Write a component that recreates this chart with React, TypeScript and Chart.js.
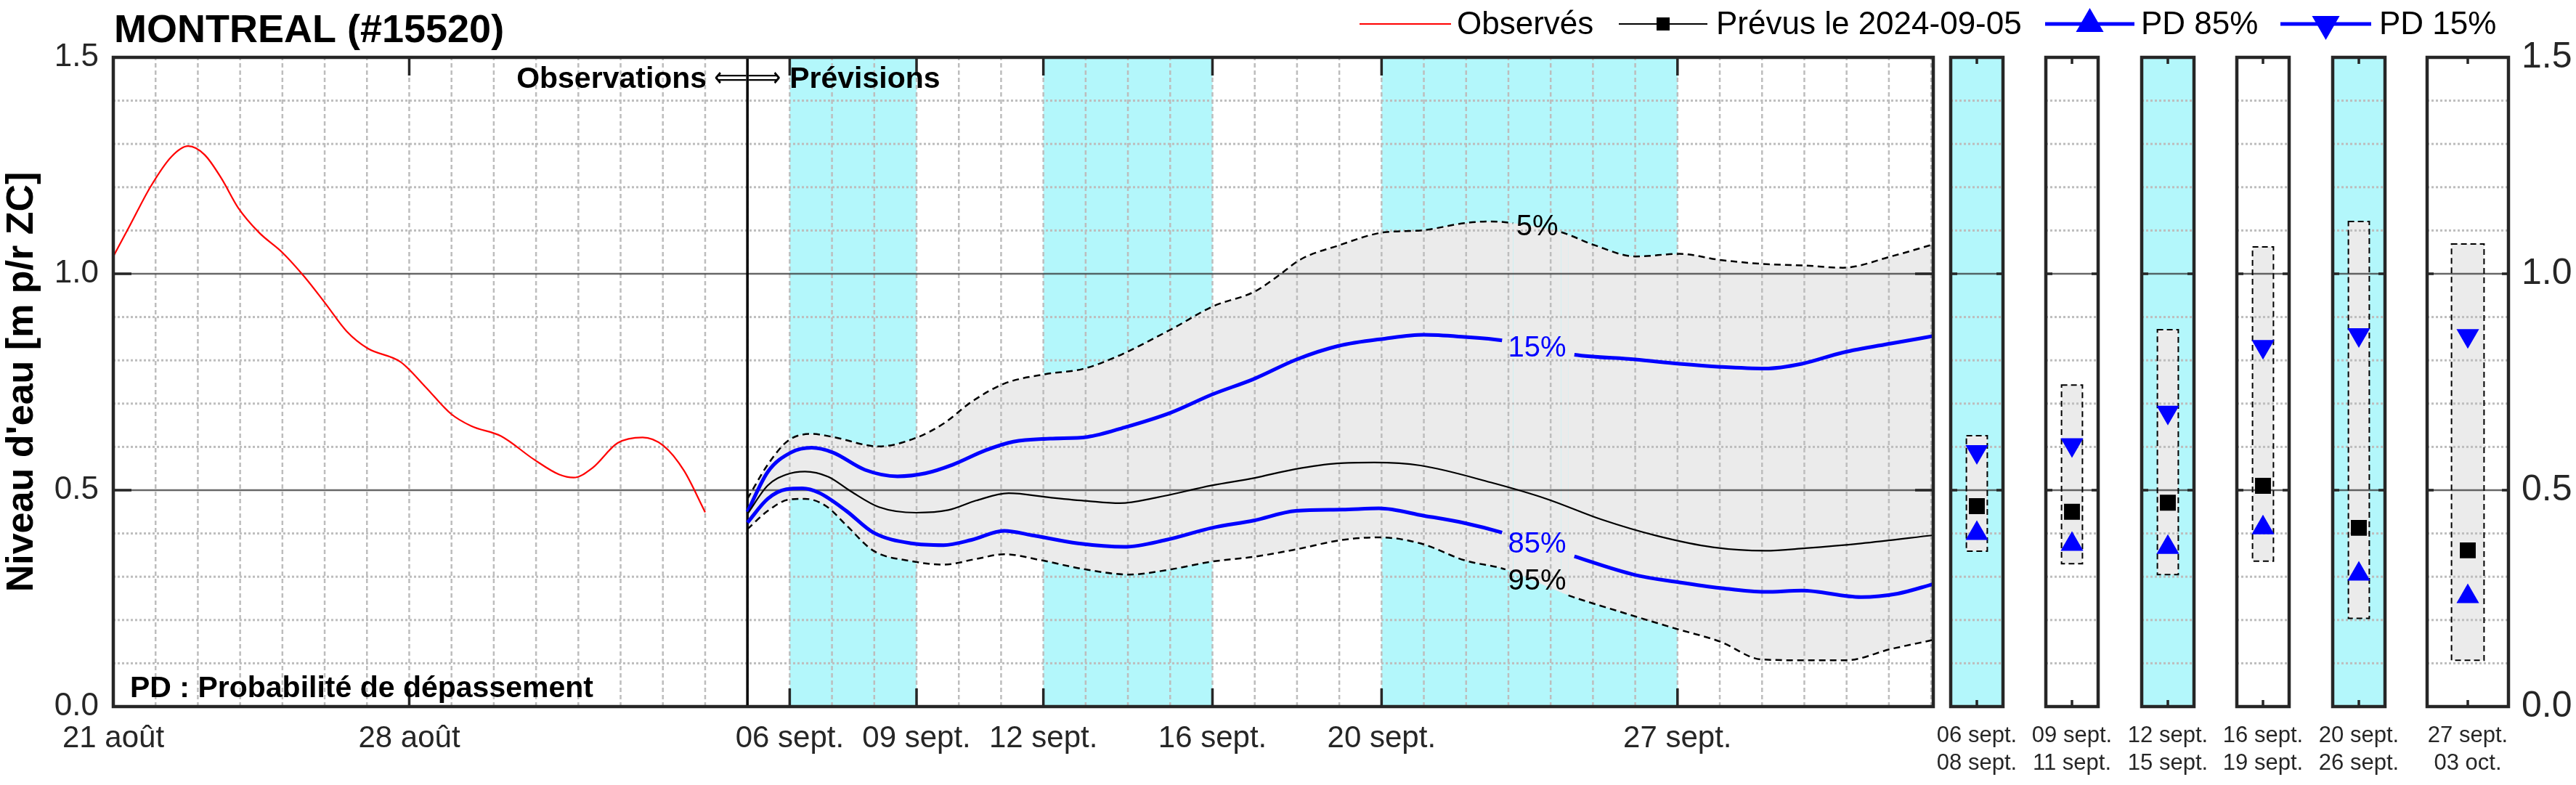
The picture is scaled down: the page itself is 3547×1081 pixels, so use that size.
import React, { useEffect, useRef } from 'react';
import { Chart, registerables } from 'chart.js';

Chart.register(...registerables);

const FONT = '"Liberation Sans", Arial, Helvetica, sans-serif';
Chart.defaults.font.family = FONT;

// ---------------- layout constants ----------------
const CW = 3547;
const CH = 1081;
const TOP = 79;
const BOTTOM = 973;
const MAIN_LEFT = 156;
const MAIN_RIGHT = 2662;
const X_MAX = 43.05; // days since 21 Aug 00:00
const PANEL_W = 112;
const PANEL_MARGIN = 40;
const panelLefts = [2686, 2817, 2949, 3080, 3212, 3342];

// ---------------- colours ----------------
const CYAN = '#b3f7fb';
const FILL_GRAY = '#ebebeb';
const AXIS = '#262626';
const GRID = '#bdbdbd';
const MAJOR = 'rgba(45,45,45,0.72)';
const RED = '#ff0000';
const BLUE = '#0000ff';

// ---------------- data ----------------
const xTickDays = [0, 7, 16, 19, 22, 26, 30, 37];
const xTickLabels = ['21 août', '28 août', '06 sept.', '09 sept.', '12 sept.', '16 sept.', '20 sept.', '27 sept.'];
const yTickValues = [0, 0.5, 1.0, 1.5];
const bandStarts = [16, 22, 30];
const bandEnds = [19, 26, 37];
const forecastStartDay = 15;

const obsDays = [0, 0.39, 0.88, 1.38, 1.77, 2.16, 2.56, 2.95, 3.45, 3.99, 4.53, 5.02, 5.52, 6.01, 6.8, 7.39, 7.98, 8.47, 9.17, 9.95, 10.55, 10.89, 11.33, 11.93, 12.52, 13.01, 13.5, 14.0];
const obsLevels = [1.04, 1.111, 1.201, 1.271, 1.295, 1.275, 1.22, 1.153, 1.095, 1.05, 0.992, 0.931, 0.867, 0.828, 0.796, 0.738, 0.677, 0.648, 0.625, 0.571, 0.536, 0.529, 0.551, 0.609, 0.622, 0.603, 0.545, 0.449];

const medDays = [15.0, 15.48, 15.92, 16.36, 16.91, 17.45, 18.11, 18.99, 19.75, 20.41, 21.18, 22.16, 23.04, 23.81, 24.68, 25.99, 26.98, 27.97, 28.95, 29.83, 30.92, 32.58, 33.9, 35.21, 36.53, 37.84, 39.07, 40.03, 41.34, 43.05];
const medLevels = [0.445, 0.511, 0.536, 0.543, 0.531, 0.497, 0.461, 0.448, 0.454, 0.476, 0.493, 0.483, 0.475, 0.47, 0.483, 0.511, 0.528, 0.549, 0.562, 0.564, 0.557, 0.518, 0.48, 0.432, 0.394, 0.368, 0.36, 0.366, 0.377, 0.396];

const p15Days = [15.0, 15.48, 16.03, 16.52, 17.02, 17.78, 18.55, 19.21, 19.86, 20.63, 21.29, 22.16, 23.04, 23.92, 25.01, 25.99, 26.98, 27.99, 28.97, 30.07, 31.0, 31.96, 32.85, 34.56, 36.0, 37.05, 38.01, 39.07, 39.94, 40.91, 42.05, 43.05];
const p15Levels = [0.45, 0.542, 0.587, 0.598, 0.587, 0.547, 0.532, 0.539, 0.559, 0.592, 0.612, 0.619, 0.623, 0.645, 0.679, 0.721, 0.757, 0.802, 0.833, 0.85, 0.859, 0.854, 0.846, 0.813, 0.802, 0.792, 0.785, 0.781, 0.792, 0.818, 0.839, 0.856];

const p85Days = [15.0, 15.48, 15.92, 16.3, 16.69, 17.34, 17.98, 18.88, 19.64, 20.3, 21.07, 21.72, 22.82, 23.92, 24.9, 25.99, 26.98, 27.97, 29.07, 29.94, 31.0, 31.96, 32.85, 34.56, 36.0, 37.05, 38.01, 39.07, 39.94, 41.34, 42.21, 43.05];
const p85Levels = [0.425, 0.48, 0.502, 0.504, 0.494, 0.452, 0.402, 0.377, 0.373, 0.385, 0.406, 0.396, 0.377, 0.369, 0.385, 0.413, 0.43, 0.452, 0.455, 0.458, 0.441, 0.424, 0.402, 0.347, 0.304, 0.287, 0.274, 0.265, 0.268, 0.253, 0.261, 0.283];

const p5Days = [15.0, 15.48, 15.97, 16.52, 17.02, 18.11, 18.99, 19.64, 20.3, 21.07, 22.05, 22.93, 23.72, 25.03, 26.02, 27.0, 27.55, 28.1, 28.97, 30.07, 30.92, 31.96, 32.58, 33.11, 34.25, 35.04, 36.0, 37.05, 38.01, 38.98, 40.03, 40.91, 42.05, 43.05];
const p5Levels = [0.48, 0.559, 0.615, 0.63, 0.623, 0.601, 0.621, 0.654, 0.704, 0.746, 0.768, 0.78, 0.808, 0.872, 0.925, 0.959, 0.995, 1.034, 1.065, 1.096, 1.1, 1.117, 1.121, 1.117, 1.096, 1.066, 1.04, 1.046, 1.032, 1.023, 1.019, 1.014, 1.04, 1.068];

const p95Days = [15.0, 15.48, 15.97, 16.36, 16.85, 17.34, 17.98, 18.88, 19.64, 20.41, 21.07, 21.95, 22.93, 24.03, 24.9, 25.99, 26.98, 27.97, 29.07, 29.94, 30.92, 31.96, 32.93, 34.42, 35.38, 36.96, 38.01, 38.98, 40.03, 40.99, 42.05, 43.05];
const p95Levels = [0.41, 0.452, 0.478, 0.48, 0.464, 0.419, 0.36, 0.336, 0.328, 0.341, 0.352, 0.338, 0.318, 0.305, 0.315, 0.335, 0.346, 0.363, 0.385, 0.391, 0.377, 0.338, 0.317, 0.257, 0.227, 0.18, 0.15, 0.109, 0.107, 0.107, 0.133, 0.154];

// label gaps (index of the segment start that is hidden behind the curve label)
const p15GapIndex = 22;
const p85GapIndex = 22;
const p5GapIndex = 23;
const p95GapIndex = 22;

const curveLabelDay = 33.68;
const curveLabels = ['5%', '15%', '85%', '95%'];
const curveLabelLevels = [1.107, 0.828, 0.374, 0.289];

const legendLabels = ['Observés', 'Prévus le 2024-09-05', 'PD 85%', 'PD 15%'];

const panelStart = ['06 sept.', '09 sept.', '12 sept.', '16 sept.', '20 sept.', '27 sept.'];
const panelEnd = ['08 sept.', '11 sept.', '15 sept.', '19 sept.', '26 sept.', '03 oct.'];
const panelBoxLow = [0.359, 0.33, 0.305, 0.336, 0.204, 0.107];
const panelBoxHigh = [0.626, 0.743, 0.871, 1.062, 1.121, 1.069];
const panelForecast = [0.463, 0.45, 0.471, 0.51, 0.413, 0.361];
const panelPD85 = [0.4, 0.375, 0.368, 0.413, 0.306, 0.254];
const panelPD15 = [0.589, 0.605, 0.68, 0.832, 0.859, 0.857];
const panelShaded = [true, false, true, false, true, false];

// ---------------- helpers ----------------
function pts(xs: number[], ys: number[]) {
  return xs.map((x, i) => ({ x, y: ys[i] }));
}

function gap(index: number) {
  return (ctx: any) => (ctx.p0DataIndex === index ? 'rgba(0,0,0,0)' : undefined);
}

function drawHGrid(ctx: CanvasRenderingContext2D, a: any, ys: any) {
  ctx.save();
  ctx.lineWidth = 3;
  ctx.strokeStyle = GRID;
  ctx.setLineDash([3, 3]);
  for (let k = 1; k < 15; k++) {
    if (k % 5 === 0) continue;
    const y = ys.getPixelForValue(k / 10);
    ctx.beginPath();
    ctx.moveTo(a.left, y);
    ctx.lineTo(a.right, y);
    ctx.stroke();
  }
  ctx.setLineDash([]);
  ctx.strokeStyle = MAJOR;
  ctx.lineWidth = 2.5;
  [0.5, 1.0].forEach((v) => {
    const y = ys.getPixelForValue(v);
    ctx.beginPath();
    ctx.moveTo(a.left, y);
    ctx.lineTo(a.right, y);
    ctx.stroke();
  });
  ctx.restore();
}

function drawFrame(ctx: CanvasRenderingContext2D, a: any, xPx: number[], yPx: number[], len: number) {
  ctx.save();
  ctx.strokeStyle = AXIS;
  ctx.lineWidth = 3.5;
  ctx.beginPath();
  xPx.forEach((x) => {
    ctx.moveTo(x, a.bottom);
    ctx.lineTo(x, a.bottom - len);
    ctx.moveTo(x, a.top);
    ctx.lineTo(x, a.top + len);
  });
  yPx.forEach((y) => {
    ctx.moveTo(a.left, y);
    ctx.lineTo(a.left + len, y);
    ctx.moveTo(a.right, y);
    ctx.lineTo(a.right - len, y);
  });
  ctx.stroke();
  ctx.lineWidth = 4.5;
  ctx.strokeRect(a.left, a.top, a.right - a.left, a.bottom - a.top);
  ctx.restore();
}

function drawTriangle(ctx: CanvasRenderingContext2D, x: number, y: number, r: number, down: boolean) {
  const h = r * 0.866;
  ctx.beginPath();
  if (!down) {
    ctx.moveTo(x, y - r);
    ctx.lineTo(x + h, y + r / 2);
    ctx.lineTo(x - h, y + r / 2);
  } else {
    ctx.moveTo(x, y + r);
    ctx.lineTo(x + h, y - r / 2);
    ctx.lineTo(x - h, y - r / 2);
  }
  ctx.closePath();
  ctx.fill();
}

// ---------------- main chart ----------------
const mainDecor = {
  id: 'mainDecor',
  beforeDraw(chart: any) {
    const { ctx, chartArea: a, scales } = chart;
    const xs = scales.x;
    ctx.save();
    ctx.fillStyle = CYAN;
    bandStarts.forEach((s, i) => {
      const x0 = xs.getPixelForValue(s);
      const x1 = xs.getPixelForValue(bandEnds[i]);
      ctx.fillRect(x0, a.top, x1 - x0, a.bottom - a.top);
    });
    ctx.restore();
  },
  beforeDatasetsDraw(chart: any) {
    const { ctx, chartArea: a, scales } = chart;
    const xs = scales.x;
    const ys = scales.y;
    ctx.save();
    ctx.beginPath();
    ctx.rect(a.left, a.top, a.right - a.left, a.bottom - a.top);
    ctx.clip();
    ctx.strokeStyle = GRID;
    ctx.lineWidth = 2.5;
    ctx.setLineDash([6, 4]);
    for (let d = 1; d < X_MAX; d++) {
      const x = xs.getPixelForValue(d);
      ctx.beginPath();
      ctx.moveTo(x, a.bottom);
      ctx.lineTo(x, a.top);
      ctx.stroke();
    }
    ctx.restore();
    drawHGrid(ctx, a, ys);
    ctx.save();
    ctx.strokeStyle = '#000';
    ctx.lineWidth = 3.5;
    const sx = xs.getPixelForValue(forecastStartDay);
    ctx.beginPath();
    ctx.moveTo(sx, a.top);
    ctx.lineTo(sx, a.bottom);
    ctx.stroke();
    ctx.restore();
  },
  afterDatasetsDraw(chart: any) {
    const { ctx, chartArea: a, scales } = chart;
    const xs = scales.x;
    const ys = scales.y;

    // curve labels
    ctx.save();
    ctx.font = `40px ${FONT}`;
    ctx.textAlign = 'center';
    ctx.textBaseline = 'middle';
    const labelColors = ['#000', BLUE, BLUE, '#000'];
    curveLabels.forEach((t, i) => {
      ctx.fillStyle = labelColors[i];
      ctx.fillText(t, xs.getPixelForValue(curveLabelDay), ys.getPixelForValue(curveLabelLevels[i]));
    });
    ctx.restore();

    drawFrame(
      ctx,
      a,
      xTickDays.map((d) => xs.getPixelForValue(d)),
      [0.5, 1.0].map((v) => ys.getPixelForValue(v)),
      25
    );

    // annotations
    const sx = xs.getPixelForValue(forecastStartDay);
    ctx.save();
    ctx.fillStyle = '#000';
    ctx.textBaseline = 'alphabetic';
    ctx.font = `bold 41px ${FONT}`;
    ctx.textAlign = 'right';
    ctx.fillText('Observations', sx - 56, 121);
    ctx.textAlign = 'left';
    ctx.fillText('Prévisions', sx + 58, 121);
    ctx.font = `38px "DejaVu Sans", ${FONT}`;
    ctx.textAlign = 'right';
    ctx.fillText('⟸', sx, 119, 46);
    ctx.textAlign = 'left';
    ctx.fillText('⟹', sx, 119, 46);
    ctx.font = `bold 41px ${FONT}`;
    ctx.textAlign = 'left';
    ctx.fillText('PD : Probabilité de dépassement', a.left + 23, 960);
    ctx.restore();
  },
  afterDraw(chart: any) {
    const { ctx } = chart;
    ctx.save();
    // title
    ctx.fillStyle = '#000';
    ctx.font = `bold 54px ${FONT}`;
    ctx.textAlign = 'left';
    ctx.textBaseline = 'alphabetic';
    ctx.fillText('MONTREAL (#15520)', 157, 58);

    // legend
    const ly = 33;
    const items = [
      { x0: 1872, x1: 1998, color: RED, w: 2.2, marker: 'none', tx: 2006 },
      { x0: 2229, x1: 2351, color: '#000', w: 2.2, marker: 'square', tx: 2363 },
      { x0: 2816, x1: 2939, color: BLUE, w: 5, marker: 'up', tx: 2948 },
      { x0: 3140, x1: 3265, color: BLUE, w: 5, marker: 'down', tx: 3276 },
    ];
    items.forEach((it, i) => {
      ctx.strokeStyle = it.color;
      ctx.lineWidth = it.w;
      ctx.beginPath();
      ctx.moveTo(it.x0, ly);
      ctx.lineTo(it.x1, ly);
      ctx.stroke();
      const cx = (it.x0 + it.x1) / 2;
      ctx.fillStyle = it.color;
      if (it.marker === 'square') ctx.fillRect(cx - 9, ly - 9, 18, 18);
      if (it.marker === 'up') drawTriangle(ctx, cx, ly, 22, false);
      if (it.marker === 'down') drawTriangle(ctx, cx, ly, 22, true);
      ctx.fillStyle = '#000';
      ctx.font = `44px ${FONT}`;
      ctx.textBaseline = 'middle';
      ctx.fillText(legendLabels[i], it.tx, ly + 2);
    });
    ctx.restore();
  },
};

function buildMainConfig() {
  return {
    type: 'line',
    data: {
      datasets: [
        { label: legendLabels[0], data: pts(obsDays, obsLevels), borderColor: RED, borderWidth: 2.2, pointRadius: 0, fill: false },
        { label: legendLabels[1], data: pts(medDays, medLevels), borderColor: '#000', borderWidth: 2.2, pointRadius: 0, fill: false },
        { label: legendLabels[3], data: pts(p15Days, p15Levels), borderColor: BLUE, borderWidth: 5, pointRadius: 0, fill: false, segment: { borderColor: gap(p15GapIndex) } },
        { label: legendLabels[2], data: pts(p85Days, p85Levels), borderColor: BLUE, borderWidth: 5, pointRadius: 0, fill: false, segment: { borderColor: gap(p85GapIndex) } },
        { label: '5%', data: pts(p5Days, p5Levels), borderColor: '#000', borderWidth: 2.5, borderDash: [9, 6], pointRadius: 0, fill: '+1', backgroundColor: FILL_GRAY, segment: { borderColor: gap(p5GapIndex) } },
        { label: '95%', data: pts(p95Days, p95Levels), borderColor: '#000', borderWidth: 2.5, borderDash: [9, 6], pointRadius: 0, fill: false, segment: { borderColor: gap(p95GapIndex) } },
      ],
    },
    options: {
      responsive: false,
      animation: false,
      devicePixelRatio: 1,
      events: [],
      layout: { padding: { left: 0, top: TOP, right: CW - MAIN_RIGHT, bottom: 0 } },
      elements: { line: { cubicInterpolationMode: 'monotone' } },
      plugins: {
        legend: { display: false },
        tooltip: { enabled: false },
        filler: { drawTime: 'beforeDatasetsDraw' },
      },
      scales: {
        x: {
          type: 'linear',
          min: 0,
          max: X_MAX,
          grid: { display: false, drawTicks: false },
          border: { display: false },
          afterBuildTicks: (s: any) => {
            s.ticks = xTickDays.map((v) => ({ value: v }));
          },
          afterFit: (s: any) => {
            s.height = CH - BOTTOM;
          },
          ticks: {
            autoSkip: false,
            maxRotation: 0,
            minRotation: 0,
            padding: 19,
            color: AXIS,
            font: { family: FONT, size: 42 },
            callback: (_v: any, i: number) => xTickLabels[i],
          },
        },
        y: {
          type: 'linear',
          min: 0,
          max: 1.5,
          grid: { display: false, drawTicks: false },
          border: { display: false },
          afterBuildTicks: (s: any) => {
            s.ticks = yTickValues.map((v) => ({ value: v }));
          },
          afterFit: (s: any) => {
            s.width = MAIN_LEFT;
          },
          ticks: {
            padding: 20,
            color: AXIS,
            font: { family: FONT, size: 44 },
            callback: (v: any) => Number(v).toFixed(1),
          },
          title: {
            display: true,
            text: "Niveau d'eau [m p/r ZC]",
            color: '#000',
            font: { family: FONT, size: 52, weight: 'bold' },
            padding: { top: -1, bottom: 0 },
          },
        },
      },
    },
    plugins: [mainDecor],
  };
}

// ---------------- small period panels ----------------
function makePanelDecor(i: number) {
  return {
    id: 'panelDecor' + i,
    beforeDraw(chart: any) {
      if (!panelShaded[i]) return;
      const { ctx, chartArea: a } = chart;
      ctx.save();
      ctx.fillStyle = CYAN;
      ctx.fillRect(a.left, a.top, a.right - a.left, a.bottom - a.top);
      ctx.restore();
    },
    afterDatasetDraw(chart: any, args: any) {
      if (args.meta.type !== 'bar') return;
      const { ctx, chartArea: a, scales } = chart;
      drawHGrid(ctx, a, scales.y);
      const bar: any = args.meta.data[0];
      if (!bar) return;
      ctx.save();
      ctx.strokeStyle = '#000';
      ctx.lineWidth = 2;
      ctx.setLineDash([8, 5]);
      ctx.strokeRect(bar.x - bar.width / 2, bar.y, bar.width, bar.base - bar.y);
      ctx.restore();
    },
    afterDatasetsDraw(chart: any) {
      const { ctx, chartArea: a, scales } = chart;
      const cx = scales.x.getPixelForValue(0);
      drawFrame(ctx, a, [cx], [0.5, 1.0].map((v) => scales.y.getPixelForValue(v)), 9);
      // two-line period label under the panel
      const lines = chart.data.labels[0] as string[];
      ctx.save();
      ctx.fillStyle = AXIS;
      ctx.font = `31px ${FONT}`;
      ctx.textAlign = 'center';
      ctx.textBaseline = 'middle';
      lines.forEach((t, k) => ctx.fillText(t, cx, a.bottom + 40 + k * 38));
      ctx.restore();
    },
  };
}

function panelGeom(i: number) {
  const last = i === panelLefts.length - 1;
  const left = panelLefts[i] - PANEL_MARGIN;
  const w = last ? CW - left : PANEL_W + 2 * PANEL_MARGIN;
  return { left, w, last };
}

function buildPanelConfig(i: number) {
  const g = panelGeom(i);
  return {
    type: 'bar',
    data: {
      labels: [[panelStart[i], panelEnd[i]]],
      datasets: [
        { type: 'line', data: [panelPD85[i]], showLine: false, pointStyle: 'triangle', pointRadius: 18, pointBackgroundColor: BLUE, pointBorderWidth: 0, order: 0 },
        { type: 'line', data: [panelPD15[i]], showLine: false, pointStyle: 'triangle', pointRotation: 180, pointRadius: 18, pointBackgroundColor: BLUE, pointBorderWidth: 0, order: 0 },
        { type: 'line', data: [panelForecast[i]], showLine: false, pointStyle: 'rect', pointRadius: 15.5, pointBackgroundColor: '#000', pointBorderWidth: 0, order: 1 },
        { type: 'bar', data: [[panelBoxLow[i], panelBoxHigh[i]]], backgroundColor: FILL_GRAY, borderWidth: 0, barPercentage: 0.4, categoryPercentage: 1, order: 5 },
      ],
    },
    options: {
      responsive: false,
      animation: false,
      devicePixelRatio: 1,
      events: [],
      layout: { padding: { left: PANEL_MARGIN, right: g.last ? 0 : PANEL_MARGIN, top: TOP, bottom: 0 } },
      plugins: { legend: { display: false }, tooltip: { enabled: false } },
      scales: {
        x: {
          grid: { display: false, drawTicks: false },
          border: { display: false },
          afterFit: (s: any) => {
            s.height = CH - BOTTOM;
          },
          ticks: { display: false },
        },
        y: {
          type: 'linear',
          position: 'right',
          min: 0,
          max: 1.5,
          display: g.last,
          grid: { display: false, drawTicks: false },
          border: { display: false },
          afterBuildTicks: (s: any) => {
            s.ticks = yTickValues.map((v) => ({ value: v }));
          },
          afterFit: (s: any) => {
            s.width = g.w - PANEL_MARGIN - PANEL_W;
          },
          ticks: {
            padding: 18,
            color: AXIS,
            font: { family: FONT, size: 50 },
            callback: (v: any) => Number(v).toFixed(1),
          },
        },
      },
    },
    plugins: [makePanelDecor(i)],
  };
}

export default function App() {
  const mainRef = useRef<HTMLCanvasElement | null>(null);
  const panelRefs = useRef<Array<HTMLCanvasElement | null>>([]);

  useEffect(() => {
    const charts: Chart[] = [];
    if (mainRef.current) charts.push(new Chart(mainRef.current, buildMainConfig() as any));
    panelRefs.current.forEach((c, i) => {
      if (c) charts.push(new Chart(c, buildPanelConfig(i) as any));
    });
    return () => {
      charts.forEach((c) => c.destroy());
    };
  }, []);

  return (
    <div style={{ position: 'absolute', left: 0, top: 0, width: CW, height: CH, background: '#ffffff', overflow: 'hidden' }}>
      <canvas ref={mainRef} width={CW} height={CH} style={{ position: 'absolute', left: 0, top: 0 }} />
      {panelLefts.map((_, i) => {
        const g = panelGeom(i);
        return (
          <canvas
            key={i}
            ref={(el) => {
              panelRefs.current[i] = el;
            }}
            width={g.w}
            height={CH}
            style={{ position: 'absolute', left: g.left, top: 0 }}
          />
        );
      })}
    </div>
  );
}
